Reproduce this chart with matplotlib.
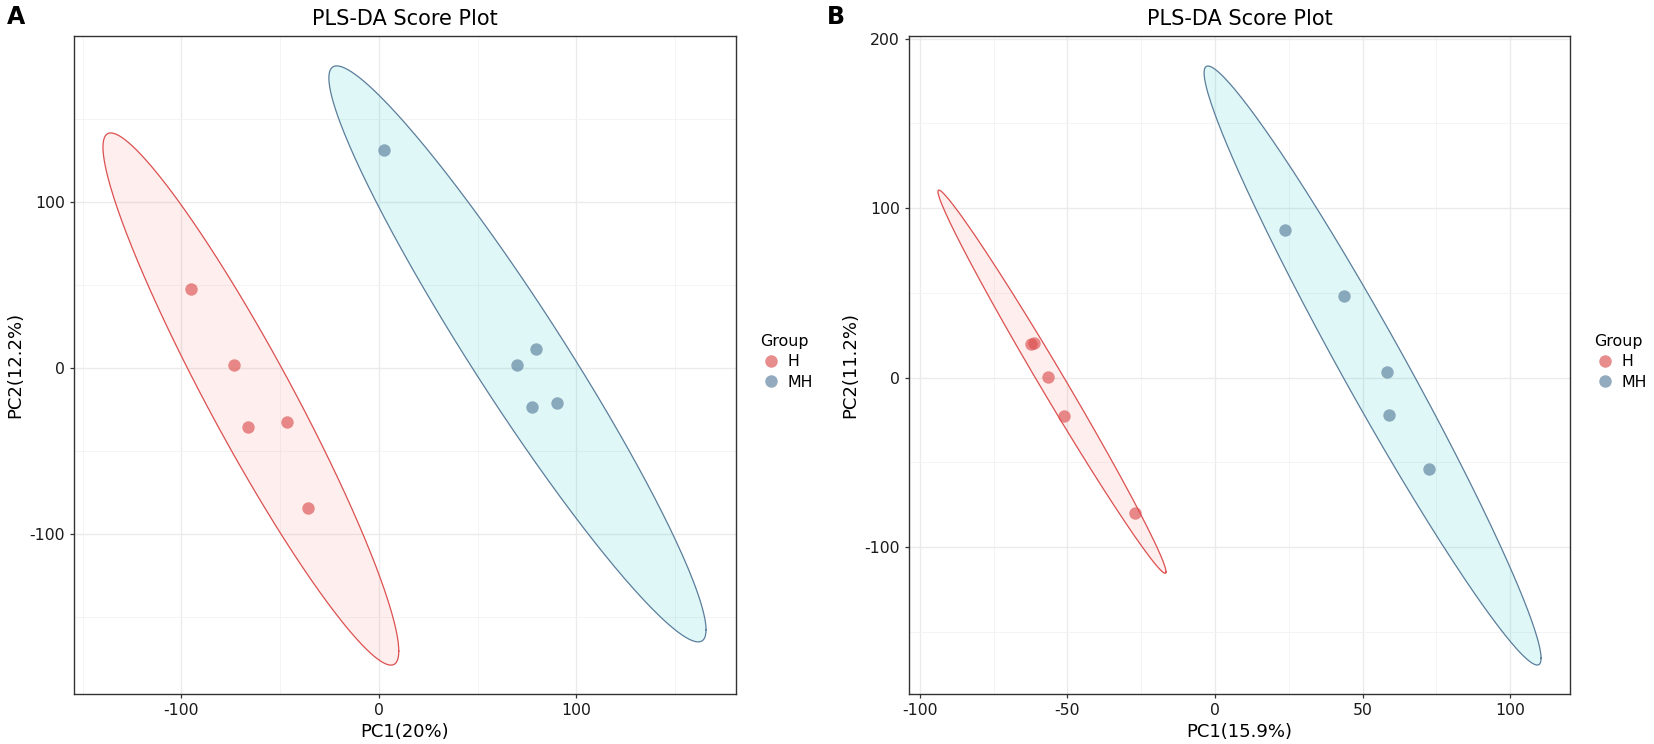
import matplotlib
matplotlib.use('Agg')
import matplotlib.pyplot as plt
from matplotlib.lines import Line2D
import numpy as np

plt.rcParams['axes.unicode_minus'] = False

# Scores.
a_h_x = [-95.2, -73.4, -66.3, -46.6, -36.0]
a_h_y = [47.6, 1.8, -35.5, -32.5, -84.3]
a_mh_x = [2.7, 79.5, 69.9, 77.5, 90.1]
a_mh_y = [131.3, 11.4, 1.8, -23.5, -21.0]

b_h_x = [-62.5, -61.5, -56.6, -51.2, -27.1]
b_h_y = [20.0, 20.2, 0.3, -22.7, -80.0]
b_mh_x = [23.7, 43.7, 58.3, 59.0, 72.5]
b_mh_y = [87.0, 48.0, 3.3, -22.1, -54.0]

# Confidence ellipses: centre x, centre y, half range x, half range y, correlation
a_h_ell = (-64.8, -18.7, 74.9, 160.3, -0.947)
a_mh_ell = (70.2, 8.5, 95.5, 173.5, -0.958)
b_h_ell = (-55.25, -2.45, 38.65, 113.05, -0.992)
b_mh_ell = (53.4, 7.1, 57.1, 176.7, -0.977)

groups = ['H', 'MH']
x_labels = ['PC1(20%)', 'PC1(15.9%)']
y_labels = ['PC2(12.2%)', 'PC2(11.2%)']

line_cols = {'H': '#DC5050', 'MH': '#5A7E9B'}
fill_cols = {'H': '#F8766D', 'MH': '#00BFC4'}


def ellipse_xy(cx, cy, rx, ry, rho, n=300):
    t = np.linspace(0, 2 * np.pi, n)
    x = cx + rx * np.cos(t)
    y = cy + ry * (rho * np.cos(t) + np.sqrt(1 - rho ** 2) * np.sin(t))
    return x, y


def style_axes(ax, xlim, ylim, xmaj, xmin, ymaj, ymin):
    ax.set_xlim(*xlim)
    ax.set_ylim(*ylim)
    ax.set_xticks(xmaj)
    ax.set_xticks(xmin, minor=True)
    ax.set_yticks(ymaj)
    ax.set_yticks(ymin, minor=True)
    ax.grid(which='major', color='#EBEBEB', linewidth=1.0, zorder=0)
    ax.grid(which='minor', color='#F3F3F3', linewidth=0.6, zorder=0)
    ax.set_axisbelow(True)
    ax.tick_params(which='major', length=3, width=0.9, color='#333333',
                   labelsize=11.3, labelcolor='#1a1a1a', pad=3.5)
    ax.tick_params(which='minor', length=0)
    for s in ax.spines.values():
        s.set_color('#333333')
        s.set_linewidth(1.0)


fig = plt.figure(figsize=(16.54, 7.44), dpi=100)
ax_a = fig.add_axes([0.0447, 0.0672, 0.4002, 0.8844])
ax_b = fig.add_axes([0.5496, 0.0672, 0.3996, 0.8844])

panels = [
    (ax_a, (a_h_x, a_h_y, a_mh_x, a_mh_y), (a_h_ell, a_mh_ell)),
    (ax_b, (b_h_x, b_h_y, b_mh_x, b_mh_y), (b_h_ell, b_mh_ell)),
]

for i, (ax, pts, ells) in enumerate(panels):
    for g, ell in zip(groups, ells):
        ex, ey = ellipse_xy(*ell)
        ax.fill(ex, ey, color=fill_cols[g], alpha=0.12, linewidth=0, zorder=2)
        ax.plot(ex, ey, color=line_cols[g], linewidth=0.9, zorder=3)
    ax.scatter(pts[0], pts[1], s=80, color=line_cols['H'], alpha=0.65,
               linewidths=0, zorder=4)
    ax.scatter(pts[2], pts[3], s=80, color=line_cols['MH'], alpha=0.65,
               linewidths=0, zorder=4)
    ax.set_title('PLS-DA Score Plot', fontsize=15, pad=8)
    ax.set_xlabel(x_labels[i], fontsize=13, labelpad=3.5)
    ax.set_ylabel(y_labels[i], fontsize=13, labelpad=4)

    handles = [Line2D([], [], marker='o', linestyle='', markersize=9,
                      markerfacecolor=line_cols[g], markeredgewidth=0,
                      alpha=0.65) for g in groups]
    leg = ax.legend(handles, groups, title='Group', loc='center left',
                    bbox_to_anchor=(1.025, 0.505), frameon=False,
                    fontsize=11.4, title_fontsize=11.4, borderpad=0,
                    handletextpad=0.4, labelspacing=0.35, handlelength=1.3,
                    alignment='left')

style_axes(ax_a, (-154.4, 180.8), (-196.4, 200.0),
           [-100, 0, 100], [-150, -50, 50, 150],
           [-100, 0, 100], [-150, -50, 50, 150])
style_axes(ax_b, (-103.7, 120.3), (-186.7, 201.5),
           [-100, -50, 0, 50, 100], [-75, -25, 25, 75],
           [-100, 0, 100, 200], [-150, -50, 50, 150])

fig.text(0.004, 0.977, 'A', fontsize=17, fontweight='bold', va='center')
fig.text(0.500, 0.977, 'B', fontsize=17, fontweight='bold', va='center')

fig.savefig('out.png', dpi=100)
